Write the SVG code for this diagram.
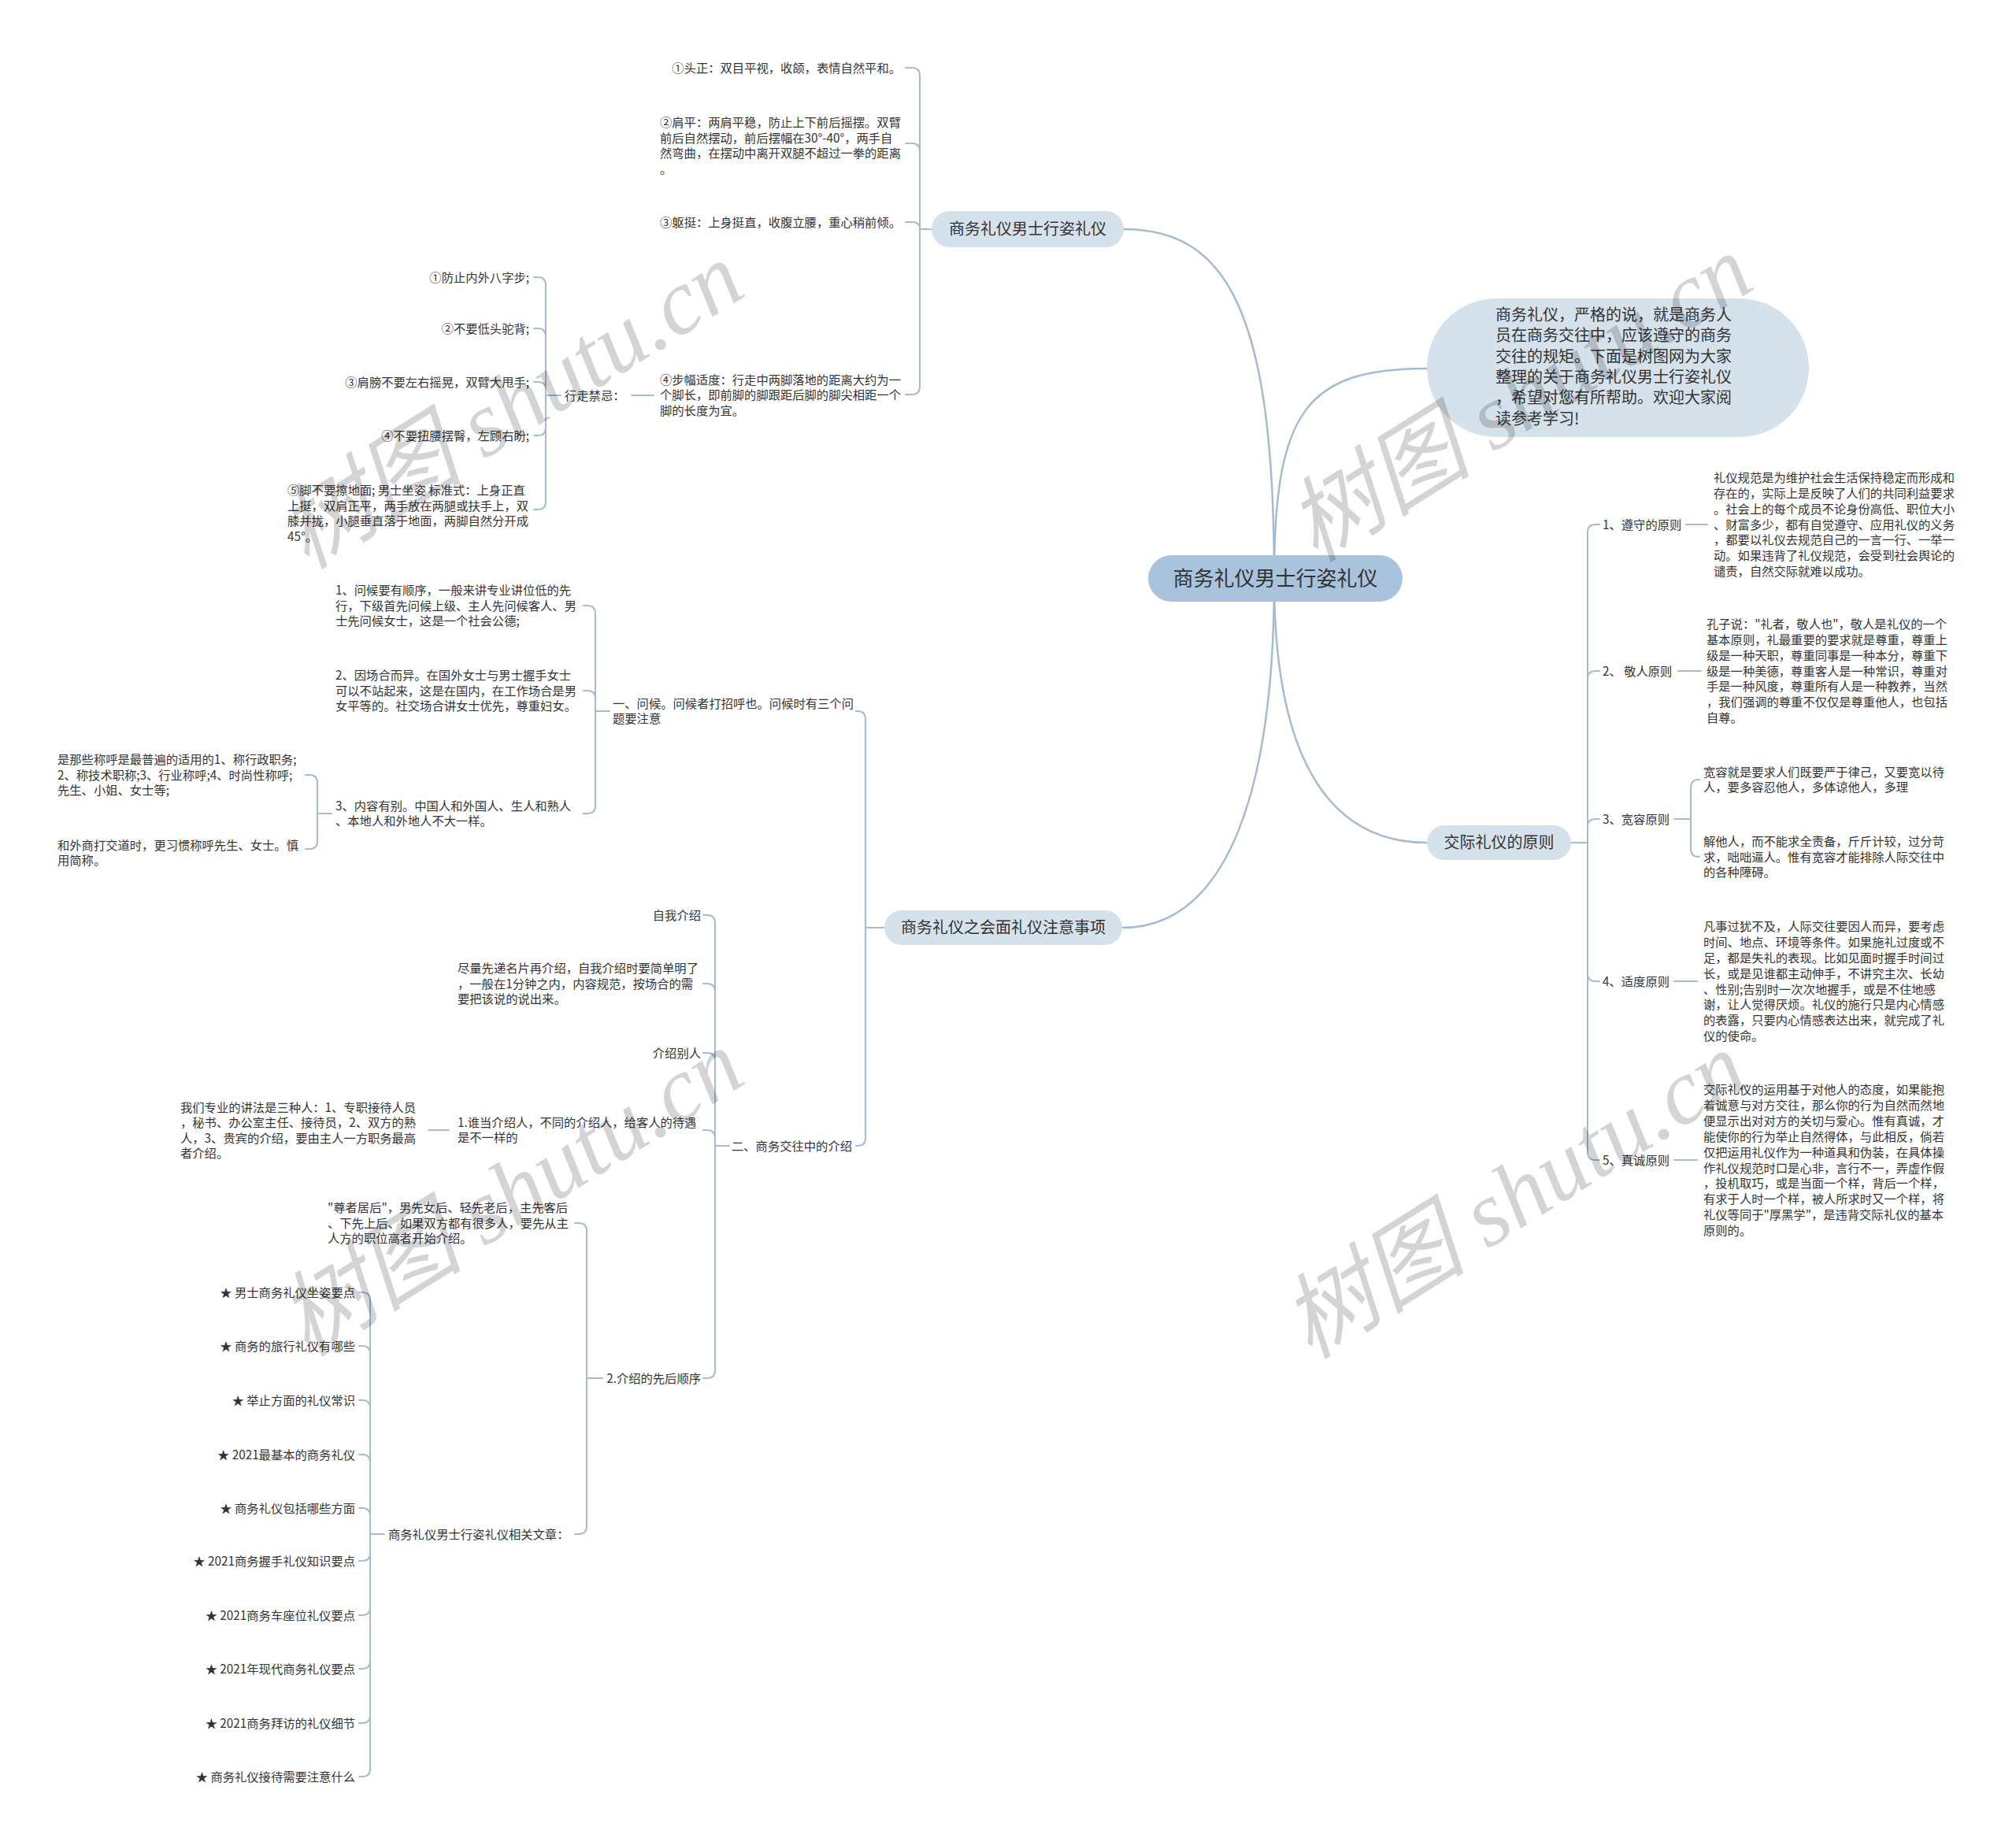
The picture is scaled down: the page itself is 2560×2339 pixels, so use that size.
<svg xmlns="http://www.w3.org/2000/svg" width="2560" height="2339" viewBox="0 0 2560 2339">
<style>
.t{font-family:"Noto Sans CJK SC","Noto Sans",sans-serif;font-size:15.3px;fill:#333}
.e{text-anchor:end}
.n{font-size:20px;text-anchor:middle}
.ib{font-size:20px}
.ct{font-size:26px;text-anchor:middle}
.c{stroke:#a3bcd3;stroke-width:2;fill:none;stroke-linecap:round}
.m{stroke-width:2.5}
.box{fill:#d5e1eb}
.wm{font-family:"Liberation Serif","Noto Sans CJK SC",serif;font-style:italic;font-size:118px;fill:#000;fill-opacity:0.17;text-anchor:middle}
</style>
<rect width="2560" height="2339" fill="#ffffff"/>
<g id="connectors">
<path class="c m" d="M1618 735 C1618 400 1560 291 1427 291"/>
<path class="c m" d="M1618 735 C1618 520 1660 468 1812 468"/>
<path class="c m" d="M1618 735 C1618 1000 1560 1178 1425 1178"/>
<path class="c m" d="M1618 735 C1618 950 1680 1070 1812 1070"/>
<!-- A -->
<path class="c" d="M1183 291 H1168"/>
<path class="c" d="M1168 291 V96 Q1168 86 1158 86 H1150"/>
<path class="c" d="M1168 291 V192 Q1168 182 1158 182 H1150"/>
<path class="c" d="M1168 291 Q1168 282 1159 282 H1150"/>
<path class="c" d="M1168 291 V491 Q1168 501 1158 501 H1150"/>
<path class="c" d="M830 502 H802"/>
<!-- B -->
<path class="c" d="M712 502 H693"/>
<path class="c" d="M693 502 V362 Q693 352 683 352 H678"/>
<path class="c" d="M693 502 V427 Q693 417 683 417 H678"/>
<path class="c" d="M693 502 V495 Q693 485 683 485 H678"/>
<path class="c" d="M693 502 V543 Q693 553 683 553 H678"/>
<path class="c" d="M693 502 V637 Q693 647 683 647 H678"/>
<!-- C -->
<path class="c" d="M1123 1178 H1099"/>
<path class="c" d="M1099 1178 V913 Q1099 903 1089 903 H1087"/>
<path class="c" d="M1099 1178 V1445 Q1099 1455 1089 1455 H1087"/>
<!-- D -->
<path class="c" d="M774 903 H756"/>
<path class="c" d="M756 903 V779 Q756 769 746 769 H741"/>
<path class="c" d="M756 903 V887 Q756 877 746 877 H741"/>
<path class="c" d="M756 903 V1023 Q756 1033 746 1033 H741"/>
<!-- E -->
<path class="c" d="M421 1033 H403"/>
<path class="c" d="M403 1033 V994 Q403 984 393 984 H388"/>
<path class="c" d="M403 1033 V1068 Q403 1078 393 1078 H388"/>
<!-- F -->
<path class="c" d="M926 1455 H908"/>
<path class="c" d="M908 1455 V1172 Q908 1162 898 1162 H893"/>
<path class="c" d="M908 1455 V1259 Q908 1249 898 1249 H893"/>
<path class="c" d="M908 1455 V1347 Q908 1337 898 1337 H893"/>
<path class="c" d="M908 1455 V1445 Q908 1435 898 1435 H893"/>
<path class="c" d="M908 1455 V1740 Q908 1750 898 1750 H893"/>
<!-- G -->
<path class="c" d="M570 1435 H544"/>
<!-- H -->
<path class="c" d="M765 1750 H745"/>
<path class="c" d="M745 1750 V1563 Q745 1553 735 1553 H730"/>
<path class="c" d="M745 1750 V1938 Q745 1948 735 1948 H730"/>
<!-- I -->
<path class="c" d="M488 1948 H470"/>
<path class="c" d="M470 1948 V1651 Q470 1641 460 1641 H456"/>
<path class="c" d="M470 1948 V1719 Q470 1709 460 1709 H456"/>
<path class="c" d="M470 1948 V1788 Q470 1778 460 1778 H456"/>
<path class="c" d="M470 1948 V1857 Q470 1847 460 1847 H456"/>
<path class="c" d="M470 1948 V1925 Q470 1915 460 1915 H456"/>
<path class="c" d="M470 1948 V1972 Q470 1982 460 1982 H456"/>
<path class="c" d="M470 1948 V2041 Q470 2051 460 2051 H456"/>
<path class="c" d="M470 1948 V2109 Q470 2119 460 2119 H456"/>
<path class="c" d="M470 1948 V2178 Q470 2188 460 2188 H456"/>
<path class="c" d="M470 1948 V2246 Q470 2256 460 2256 H456"/>
<!-- J -->
<path class="c" d="M1995 1070 H2016"/>
<path class="c" d="M2016 1070 V676 Q2016 666 2026 666 H2031"/>
<path class="c" d="M2016 1070 V862 Q2016 852 2026 852 H2031"/>
<path class="c" d="M2016 1070 V1050 Q2016 1040 2026 1040 H2031"/>
<path class="c" d="M2016 1070 V1236 Q2016 1246 2026 1246 H2031"/>
<path class="c" d="M2016 1070 V1463 Q2016 1473 2026 1473 H2031"/>
<path class="c" d="M2141 666 H2168"/>
<path class="c" d="M2131 852 H2160"/>
<path class="c" d="M2126 1040 H2147"/>
<path class="c" d="M2126 1246 H2155"/>
<path class="c" d="M2126 1473 H2155"/>
<!-- K -->
<path class="c" d="M2147 1040 V1000 Q2147 990 2157 990 H2158"/>
<path class="c" d="M2147 1040 V1078 Q2147 1088 2157 1088 H2158"/>
</g>

<g id="center">
<rect x="1458" y="705" width="323" height="59" rx="29.5" fill="#a9c3dc"/>
<text class="t ct" x="1619.5" y="744">商务礼仪男士行姿礼仪</text>
</g>
<g id="intro">
<rect x="1812" y="379" width="485" height="176" rx="88" class="box"/>
<text class="t ib" x="1899" y="407"><tspan x="1899">商务礼仪，严格的说，就是商务人</tspan><tspan x="1899" dy="26.3">员在商务交往中，应该遵守的商务</tspan><tspan x="1899" dy="26.3">交往的规矩。下面是树图网为大家</tspan><tspan x="1899" dy="26.3">整理的关于商务礼仪男士行姿礼仪</tspan><tspan x="1899" dy="26.3">，希望对您有所帮助。欢迎大家阅</tspan><tspan x="1899" dy="26.3">读参考学习!</tspan></text>
</g>

<g id="branch1">
<rect x="1183" y="268" width="244" height="46" rx="23" class="box"/>
<text class="t n" x="1305" y="298">商务礼仪男士行姿礼仪</text>
</g>
<g id="b1-1"><text class="t e" x="1144" y="91.5">①头正：双目平视，收颌，表情自然平和。</text></g>
<g id="b1-2"><text class="t" x="838" y="161"><tspan x="838">②肩平：两肩平稳，防止上下前后摇摆。双臂</tspan><tspan x="838" dy="19.5">前后自然摆动，前后摆幅在30°-40°，两手自</tspan><tspan x="838" dy="19.5">然弯曲，在摆动中离开双腿不超过一拳的距离</tspan><tspan x="838" dy="19.5">。</tspan></text></g>
<g id="b1-3"><text class="t e" x="1144" y="287.5">③躯挺：上身挺直，收腹立腰，重心稍前倾。</text></g>
<g id="b1-4"><text class="t" x="838" y="487.5"><tspan x="838">④步幅适度：行走中两脚落地的距离大约为一</tspan><tspan x="838" dy="19.5">个脚长，即前脚的脚跟距后脚的脚尖相距一个</tspan><tspan x="838" dy="19.5">脚的长度为宜。</tspan></text></g>
<g id="walk"><text class="t" x="717" y="507.5">行走禁忌：</text></g>
<g id="walk-1"><text class="t e" x="672" y="357.5">①防止内外八字步;</text></g>
<g id="walk-2"><text class="t e" x="672" y="422.5">②不要低头驼背;</text></g>
<g id="walk-3"><text class="t e" x="672" y="490.5">③肩膀不要左右摇晃，双臂大甩手;</text></g>
<g id="walk-4"><text class="t e" x="672" y="558.5">④不要扭腰摆臀，左顾右盼;</text></g>
<g id="walk-5"><text class="t" x="365" y="628"><tspan x="365">⑤脚不要擦地面; 男士坐姿 标准式：上身正直</tspan><tspan x="365" dy="19.5">上挺，双肩正平，两手放在两腿或扶手上，双</tspan><tspan x="365" dy="19.5">膝并拢，小腿垂直落于地面，两脚自然分开成</tspan><tspan x="365" dy="19.5">45°。</tspan></text></g>

<g id="branch2">
<rect x="1123" y="1156" width="302" height="44" rx="22" class="box"/>
<text class="t n" x="1274" y="1185">商务礼仪之会面礼仪注意事项</text>
</g>
<g id="greet"><text class="t" x="778" y="898.5"><tspan x="778">一、问候。问候者打招呼也。问候时有三个问</tspan><tspan x="778" dy="19.5">题要注意</tspan></text></g>
<g id="greet-1"><text class="t" x="426" y="755"><tspan x="426">1、问候要有顺序，一般来讲专业讲位低的先</tspan><tspan x="426" dy="19.5">行，下级首先问候上级、主人先问候客人、男</tspan><tspan x="426" dy="19.5">士先问候女士，这是一个社会公德;</tspan></text></g>
<g id="greet-2"><text class="t" x="426" y="863"><tspan x="426">2、因场合而异。在国外女士与男士握手女士</tspan><tspan x="426" dy="19.5">可以不站起来，这是在国内，在工作场合是男</tspan><tspan x="426" dy="19.5">女平等的。社交场合讲女士优先，尊重妇女。</tspan></text></g>
<g id="greet-3"><text class="t" x="426" y="1028.5"><tspan x="426">3、内容有别。中国人和外国人、生人和熟人</tspan><tspan x="426" dy="19.5">、本地人和外地人不大一样。</tspan></text></g>
<g id="greet-3-1"><text class="t" x="73" y="970"><tspan x="73">是那些称呼是最普遍的适用的1、称行政职务;</tspan><tspan x="73" dy="19.5">2、称技术职称;3、行业称呼;4、时尚性称呼;</tspan><tspan x="73" dy="19.5">先生、小姐、女士等;</tspan></text></g>
<g id="greet-3-2"><text class="t" x="73" y="1078.5"><tspan x="73">和外商打交道时，更习惯称呼先生、女士。慎</tspan><tspan x="73" dy="19.5">用简称。</tspan></text></g>
<g id="intro2"><text class="t e" x="1082" y="1460.5">二、商务交往中的介绍</text></g>
<g id="self"><text class="t e" x="890" y="1167.5">自我介绍</text></g>
<g id="self-1"><text class="t" x="581" y="1235"><tspan x="581">尽量先递名片再介绍，自我介绍时要简单明了</tspan><tspan x="581" dy="19.5">，一般在1分钟之内，内容规范，按场合的需</tspan><tspan x="581" dy="19.5">要把该说的说出来。</tspan></text></g>
<g id="other"><text class="t e" x="890" y="1342.5">介绍别人</text></g>
<g id="who"><text class="t" x="581" y="1430.5"><tspan x="581">1.谁当介绍人，不同的介绍人，给客人的待遇</tspan><tspan x="581" dy="19.5">是不一样的</tspan></text></g>
<g id="who-1"><text class="t" x="229" y="1411.5"><tspan x="229">我们专业的讲法是三种人：1、专职接待人员</tspan><tspan x="229" dy="19.5">，秘书、办公室主任、接待员，2、双方的熟</tspan><tspan x="229" dy="19.5">人，3、贵宾的介绍，要由主人一方职务最高</tspan><tspan x="229" dy="19.5">者介绍。</tspan></text></g>
<g id="order"><text class="t e" x="890" y="1755.5">2.介绍的先后顺序</text></g>
<g id="order-1"><text class="t" x="416" y="1539"><tspan x="416">"尊者居后"，男先女后、轻先老后，主先客后</tspan><tspan x="416" dy="19.5">、下先上后、如果双方都有很多人，要先从主</tspan><tspan x="416" dy="19.5">人方的职位高者开始介绍。</tspan></text></g>
<g id="related"><text class="t" x="493" y="1953.5">商务礼仪男士行姿礼仪相关文章：</text></g>
<g id="rel-1"><text class="t e" x="451" y="1646.5">★ 男士商务礼仪坐姿要点</text></g>
<g id="rel-2"><text class="t e" x="451" y="1714.5">★ 商务的旅行礼仪有哪些</text></g>
<g id="rel-3"><text class="t e" x="451" y="1783.5">★ 举止方面的礼仪常识</text></g>
<g id="rel-4"><text class="t e" x="451" y="1852.5">★ 2021最基本的商务礼仪</text></g>
<g id="rel-5"><text class="t e" x="451" y="1920.5">★ 商务礼仪包括哪些方面</text></g>
<g id="rel-6"><text class="t e" x="451" y="1987.5">★ 2021商务握手礼仪知识要点</text></g>
<g id="rel-7"><text class="t e" x="451" y="2056.5">★ 2021商务车座位礼仪要点</text></g>
<g id="rel-8"><text class="t e" x="451" y="2124.5">★ 2021年现代商务礼仪要点</text></g>
<g id="rel-9"><text class="t e" x="451" y="2193.5">★ 2021商务拜访的礼仪细节</text></g>
<g id="rel-10"><text class="t e" x="451" y="2261.5">★ 商务礼仪接待需要注意什么</text></g>

<g id="branch3">
<rect x="1812" y="1048" width="183" height="44" rx="22" class="box"/>
<text class="t n" x="1903.5" y="1077">交际礼仪的原则</text>
</g>
<g id="p1"><text class="t" x="2035" y="671.5">1、遵守的原则</text></g>
<g id="p1-d"><text class="t" x="2176" y="611.8"><tspan x="2176">礼仪规范是为维护社会生活保持稳定而形成和</tspan><tspan x="2176" dy="19.9">存在的，实际上是反映了人们的共同利益要求</tspan><tspan x="2176" dy="19.9">。社会上的每个成员不论身份高低、职位大小</tspan><tspan x="2176" dy="19.9">、财富多少，都有自觉遵守、应用礼仪的义务</tspan><tspan x="2176" dy="19.9">，都要以礼仪去规范自己的一言一行、一举一</tspan><tspan x="2176" dy="19.9">动。如果违背了礼仪规范，会受到社会舆论的</tspan><tspan x="2176" dy="19.9">谴责，自然交际就难以成功。</tspan></text></g>
<g id="p2"><text class="t" x="2035" y="857.5">2、 敬人原则</text></g>
<g id="p2-d"><text class="t" x="2167" y="797.8"><tspan x="2167">孔子说："礼者，敬人也"，敬人是礼仪的一个</tspan><tspan x="2167" dy="19.9">基本原则，礼最重要的要求就是尊重，尊重上</tspan><tspan x="2167" dy="19.9">级是一种天职，尊重同事是一种本分，尊重下</tspan><tspan x="2167" dy="19.9">级是一种美德，尊重客人是一种常识，尊重对</tspan><tspan x="2167" dy="19.9">手是一种风度，尊重所有人是一种教养，当然</tspan><tspan x="2167" dy="19.9">，我们强调的尊重不仅仅是尊重他人，也包括</tspan><tspan x="2167" dy="19.9">自尊。</tspan></text></g>
<g id="p3"><text class="t" x="2035" y="1045.5">3、宽容原则</text></g>
<g id="p3-d1"><text class="t" x="2163" y="985.5"><tspan x="2163">宽容就是要求人们既要严于律己，又要宽以待</tspan><tspan x="2163" dy="19.9">人，要多容忍他人，多体谅他人，多理</tspan></text></g>
<g id="p3-d2"><text class="t" x="2163" y="1073.6"><tspan x="2163">解他人，而不能求全责备，斤斤计较，过分苛</tspan><tspan x="2163" dy="19.9">求，咄咄逼人。惟有宽容才能排除人际交往中</tspan><tspan x="2163" dy="19.9">的各种障碍。</tspan></text></g>
<g id="p4"><text class="t" x="2035" y="1251.5">4、适度原则</text></g>
<g id="p4-d"><text class="t" x="2163" y="1181.9"><tspan x="2163">凡事过犹不及，人际交往要因人而异，要考虑</tspan><tspan x="2163" dy="19.9">时间、地点、环境等条件。如果施礼过度或不</tspan><tspan x="2163" dy="19.9">足，都是失礼的表现。比如见面时握手时间过</tspan><tspan x="2163" dy="19.9">长，或是见谁都主动伸手，不讲究主次、长幼</tspan><tspan x="2163" dy="19.9">、性别;告别时一次次地握手，或是不住地感</tspan><tspan x="2163" dy="19.9">谢，让人觉得厌烦。礼仪的施行只是内心情感</tspan><tspan x="2163" dy="19.9">的表露，只要内心情感表达出来，就完成了礼</tspan><tspan x="2163" dy="19.9">仪的使命。</tspan></text></g>
<g id="p5"><text class="t" x="2035" y="1478.5">5、真诚原则</text></g>
<g id="p5-d"><text class="t" x="2163" y="1389"><tspan x="2163">交际礼仪的运用基于对他人的态度，如果能抱</tspan><tspan x="2163" dy="19.9">着诚意与对方交往，那么你的行为自然而然地</tspan><tspan x="2163" dy="19.9">便显示出对对方的关切与爱心。惟有真诚，才</tspan><tspan x="2163" dy="19.9">能使你的行为举止自然得体，与此相反，倘若</tspan><tspan x="2163" dy="19.9">仅把运用礼仪作为一种道具和伪装，在具体操</tspan><tspan x="2163" dy="19.9">作礼仪规范时口是心非，言行不一，弄虚作假</tspan><tspan x="2163" dy="19.9">，投机取巧，或是当面一个样，背后一个样，</tspan><tspan x="2163" dy="19.9">有求于人时一个样，被人所求时又一个样，将</tspan><tspan x="2163" dy="19.9">礼仪等同于"厚黑学"，是违背交际礼仪的基本</tspan><tspan x="2163" dy="19.9">原则的。</tspan></text></g>

<g id="watermarks">
<text class="wm" transform="translate(649,515) rotate(-32)" x="0" y="40">树图 shutu.cn</text>
<text class="wm" transform="translate(649,1515) rotate(-32)" x="0" y="40">树图 shutu.cn</text>
<text class="wm" transform="translate(1930,506) rotate(-32)" x="0" y="40">树图 shutu.cn</text>
<text class="wm" transform="translate(1923,1518) rotate(-32)" x="0" y="40">树图 shutu.cn</text>
</g>
</svg>
